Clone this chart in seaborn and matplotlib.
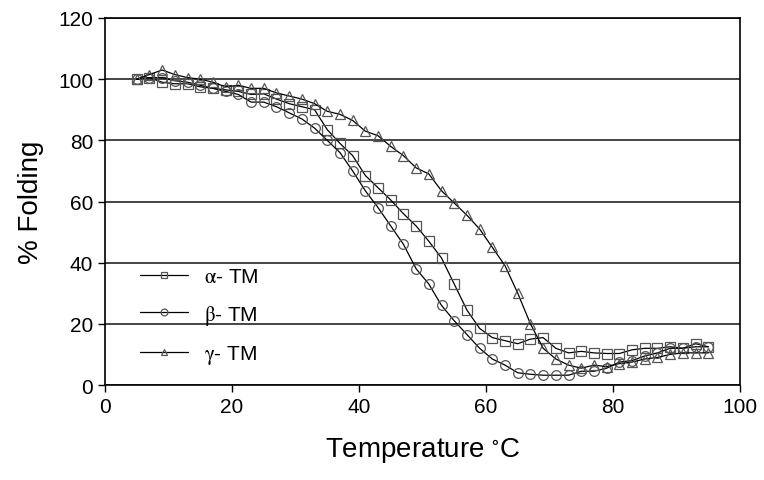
import numpy as np
import pandas as pd
import matplotlib
matplotlib.use("Agg")
import matplotlib.pyplot as plt
import seaborn as sns

# temperatures (deg C), one reading every 2 degrees
temperature = list(range(5, 96, 2))

alpha_tm = [100, 100.5, 99, 98.5, 98.5, 97.5, 97, 96.5, 96, 95, 95.2, 93.5, 92, 91, 90,
            83.5, 79, 75, 68.5, 64.5, 60.5, 56, 52, 47, 41.5, 33, 24.5, 18.5, 15.5, 14.5,
            13.5, 15, 15.5, 12, 10.5, 11, 10.5, 10.3, 10.3, 11.5, 12, 12, 12.5, 12, 13.5, 12.5]
beta_tm = [100, 100.5, 100.5, 99.5, 99, 98, 97, 96, 95, 92.5, 92.5, 91, 89, 87, 84,
           80, 76, 70, 63.5, 58, 52, 46, 38, 33, 26, 21, 16.5, 12, 8.5, 6.5,
           4, 3.5, 3.2, 3.2, 3.2, 4.5, 4.5, 5.5, 7.5, 8, 9.5, 10.5, 12, 12, 12.5, 12.5]
gamma_tm = [100, 101.5, 103, 101.5, 100.5, 100, 99, 97.5, 98, 97, 97, 95.5, 94.5, 93.5, 92,
            89.5, 88.5, 86.5, 83, 81.5, 78, 75, 71, 69, 63.5, 59.5, 55.5, 51, 45, 39,
            30, 20, 12, 8.5, 6.5, 5.5, 6.5, 6, 7, 7.5, 8.5, 9, 10, 10.5, 10.5, 10.5]

series_labels = [r"$\mathrm{\alpha}$- TM", r"$\mathrm{\beta}$- TM", r"$\mathrm{\gamma}$- TM"]
series_values = [alpha_tm, beta_tm, gamma_tm]
markers = ["s", "o", "^"]

sns.set_style("white")
plt.rcParams["font.family"] = ["Liberation Sans", "DejaVu Sans"]
plt.rcParams["mathtext.fontset"] = "stix"
plt.rcParams["text.color"] = "black"
plt.rcParams["axes.labelcolor"] = "black"
plt.rcParams["xtick.color"] = "black"
plt.rcParams["ytick.color"] = "black"

fig = plt.figure(figsize=(7.64, 4.81), dpi=100)
ax = fig.add_axes([0.1374, 0.1975, 0.8312, 0.763])

for label, vals, m in zip(series_labels, series_values, markers):
    df = pd.DataFrame({"temp": temperature, "fold": vals})
    sns.lineplot(data=df, x="temp", y="fold", ax=ax, color="black", lw=0.9,
                 marker=m, markersize=7, mfc="none", mec="#555555", mew=0.9,
                 label=label)

ax.set_xlim(0, 100)
ax.set_ylim(0, 120)
ax.set_xticks(range(0, 101, 20))
ax.set_yticks(range(0, 121, 20))
ax.yaxis.grid(True, color="#444444", lw=1.4)
ax.set_axisbelow(True)
for s in ax.spines.values():
    s.set_color("black")
    s.set_linewidth(1.2)
ax.tick_params(axis="both", labelsize=15, direction="out", length=5, width=1,
               left=True, bottom=True)
ax.set_xlabel("Temperature $^{\\circ}$C", fontsize=20, labelpad=14)
ax.set_ylabel("% Folding", fontsize=20, labelpad=10)

leg = ax.legend(loc="lower left", bbox_to_anchor=(0.025, 0.0), frameon=False,
                fontsize=15, markerscale=0.7, handlelength=2.3, labelspacing=0.8)

fig.savefig("out.png", dpi=100)
